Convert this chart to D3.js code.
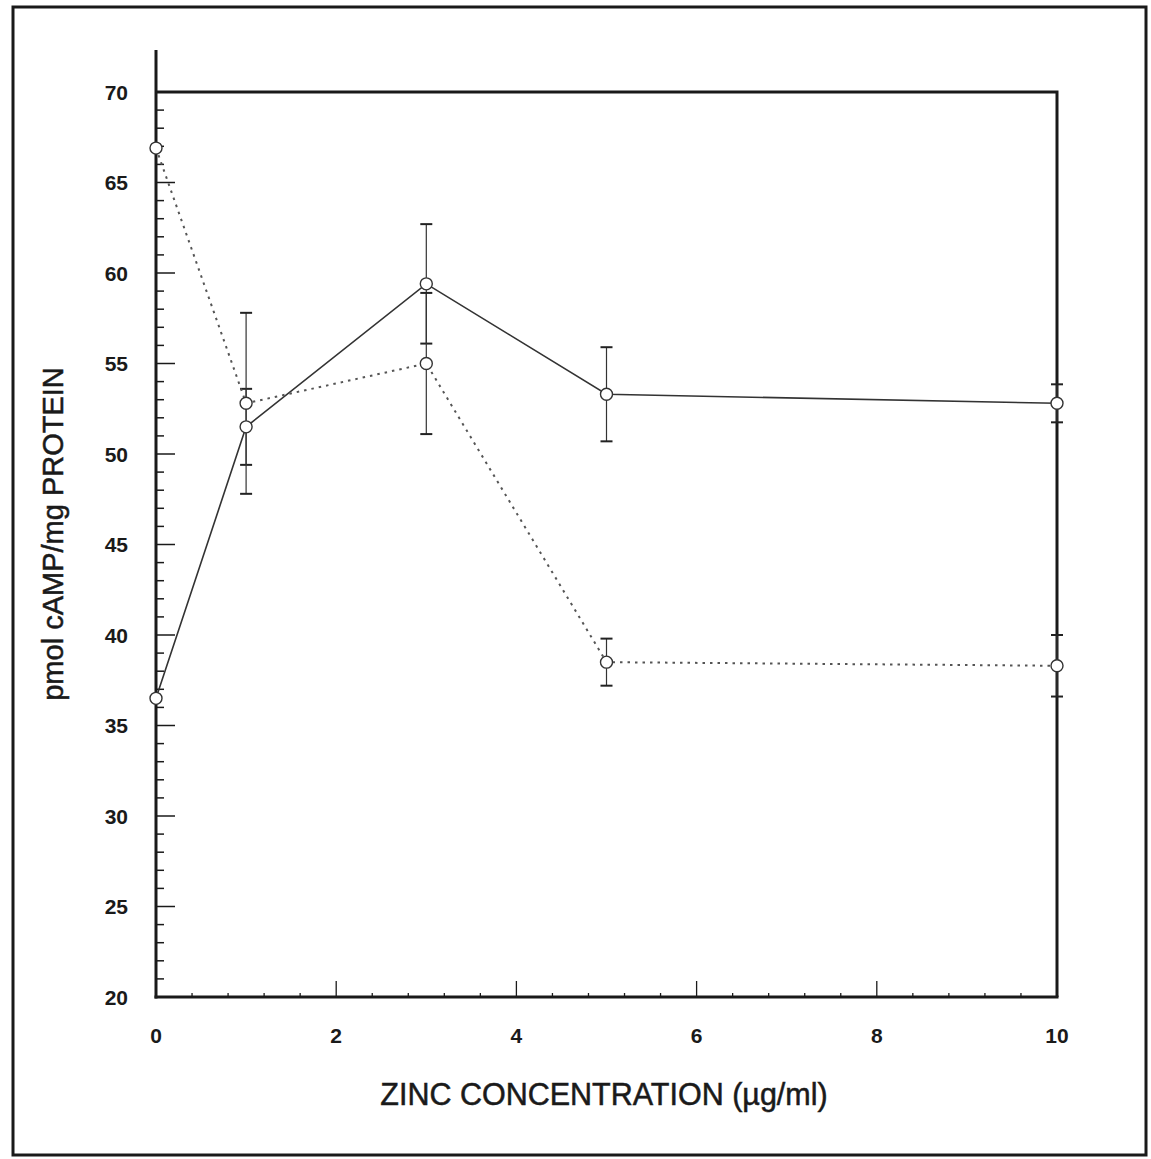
<!DOCTYPE html>
<html>
<head>
<meta charset="utf-8">
<script src="https://cdn.jsdelivr.net/npm/d3@7"></script>
<style>
  html, body { margin: 0; padding: 0; background: #fff; }
  svg { display: block; font-family: "Liberation Sans", Arial, Helvetica, sans-serif; }
</style>
</head>
<body>
<script>
// zinc concentration (ug/ml) on x
const zinc = [0, 1, 3, 5, 10]

// solid line series and its error
const solidVals = [36.5, 51.5, 59.4, 53.3, 52.8]
const solidErr = [0, 2.1, 3.3, 2.6, 1.05]

// dotted line series and its error
const dottedVals = [66.9, 52.8, 55.0, 38.5, 38.3]
const dottedErr = [0, 5.0, 3.9, 1.3, 1.7]

const xTicks = [0, 2, 4, 6, 8, 10]
const yTicks = [20, 25, 30, 35, 40, 45, 50, 55, 60, 65, 70]

const width = 1151
const height = 1159

const svg = d3.select("body").append("svg")
  .attr("width", width)
  .attr("height", height)

const x = d3.scaleLinear().domain([0, 10]).range([156, 1057])
const y = d3.scaleLinear().domain([20, 70]).range([997, 92])

const ink = "#1a1a1a"

// outer frame
svg.append("rect")
  .attr("x", 13).attr("y", 7)
  .attr("width", 1133).attr("height", 1148)
  .attr("fill", "none")
  .attr("stroke", ink)
  .attr("stroke-width", 3)

// plot box (top and right)
svg.append("path")
  .attr("d", `M${x(0)},${y(70)}H${x(10)}V${y(20)}`)
  .attr("fill", "none")
  .attr("stroke", ink)
  .attr("stroke-width", 3)

// y axis: minor ticks each unit, long ticks every 5
const gy = svg.append("g")
gy.append("line")
  .attr("x1", x(0)).attr("x2", x(0))
  .attr("y1", 50).attr("y2", y(20) + 1.5)
  .attr("stroke", ink).attr("stroke-width", 3)
gy.selectAll("line.tk")
  .data(d3.range(21, 70))
  .join("line")
  .attr("class", "tk")
  .attr("x1", x(0))
  .attr("x2", d => x(0) + (d % 5 === 0 ? 19 : 8))
  .attr("y1", d => y(d)).attr("y2", d => y(d))
  .attr("stroke", ink).attr("stroke-width", 1.5)
gy.selectAll("text")
  .data(yTicks)
  .join("text")
  .attr("x", 128)
  .attr("y", d => y(d) + 7.5)
  .attr("text-anchor", "end")
  .attr("font-size", 21)
  .attr("font-weight", "bold")
  .attr("fill", ink)
  .text(d => d)

// x axis
const gx = svg.append("g")
gx.append("line")
  .attr("x1", x(0) - 1.5).attr("x2", x(10) + 1.5)
  .attr("y1", y(20)).attr("y2", y(20))
  .attr("stroke", ink).attr("stroke-width", 3)
gx.selectAll("line.tk")
  .data(d3.range(1, 25).map(i => i * 0.4))
  .join("line")
  .attr("class", "tk")
  .attr("x1", d => x(d)).attr("x2", d => x(d))
  .attr("y1", y(20))
  .attr("y2", d => Math.abs(d / 2 - Math.round(d / 2)) < 1e-6 ? y(20) - 16 : y(20) - 4)
  .attr("stroke", ink).attr("stroke-width", 1.3)
gx.selectAll("text")
  .data(xTicks)
  .join("text")
  .attr("x", d => x(d))
  .attr("y", 1043)
  .attr("text-anchor", "middle")
  .attr("font-size", 21)
  .attr("font-weight", "bold")
  .attr("fill", ink)
  .text(d => d)

// axis titles
svg.append("text")
  .attr("x", 604).attr("y", 1105)
  .attr("text-anchor", "middle")
  .attr("font-size", 30.5)
  .attr("fill", ink)
  .attr("stroke", ink).attr("stroke-width", 0.5)
  .text("ZINC CONCENTRATION (\u00b5g/ml)")

svg.append("text")
  .attr("transform", "translate(63,534) rotate(-90)")
  .attr("text-anchor", "middle")
  .attr("font-size", 29)
  .attr("fill", ink)
  .attr("stroke", ink).attr("stroke-width", 0.5)
  .text("pmol cAMP/mg PROTEIN")

const series = [
  { vals: solidVals, err: solidErr, dash: null, color: "#333", w: 1.6 },
  { vals: dottedVals, err: dottedErr, dash: "2.5,5", color: "#555", w: 2 }
]

const line = d3.line().x(d => x(d[0])).y(d => y(d[1]))

series.forEach(s => {
  const pts = zinc.map((z, i) => [z, s.vals[i], s.err[i]])

  svg.append("path")
    .datum(pts)
    .attr("d", line)
    .attr("fill", "none")
    .attr("stroke", s.color)
    .attr("stroke-width", s.w)
    .attr("stroke-dasharray", s.dash)

  const eb = svg.append("g")
    .selectAll("g")
    .data(pts.filter(d => d[2] > 0))
    .join("g")
  eb.append("line")
    .attr("x1", d => x(d[0])).attr("x2", d => x(d[0]))
    .attr("y1", d => y(d[1] + d[2])).attr("y2", d => y(d[1] - d[2]))
    .attr("stroke", "#333").attr("stroke-width", 1.2)
  eb.selectAll("line.cap")
    .data(d => [[d[0], d[1] + d[2]], [d[0], d[1] - d[2]]])
    .join("line")
    .attr("class", "cap")
    .attr("x1", d => x(d[0]) - 6).attr("x2", d => x(d[0]) + 6)
    .attr("y1", d => y(d[1])).attr("y2", d => y(d[1]))
    .attr("stroke", "#222").attr("stroke-width", 2)
})

// markers on top
series.forEach(s => {
  svg.append("g")
    .selectAll("circle")
    .data(zinc.map((z, i) => [z, s.vals[i]]))
    .join("circle")
    .attr("cx", d => x(d[0]))
    .attr("cy", d => y(d[1]))
    .attr("r", 6)
    .attr("fill", "#fff")
    .attr("stroke", "#333")
    .attr("stroke-width", 1.4)
})
</script>
</body>
</html>
